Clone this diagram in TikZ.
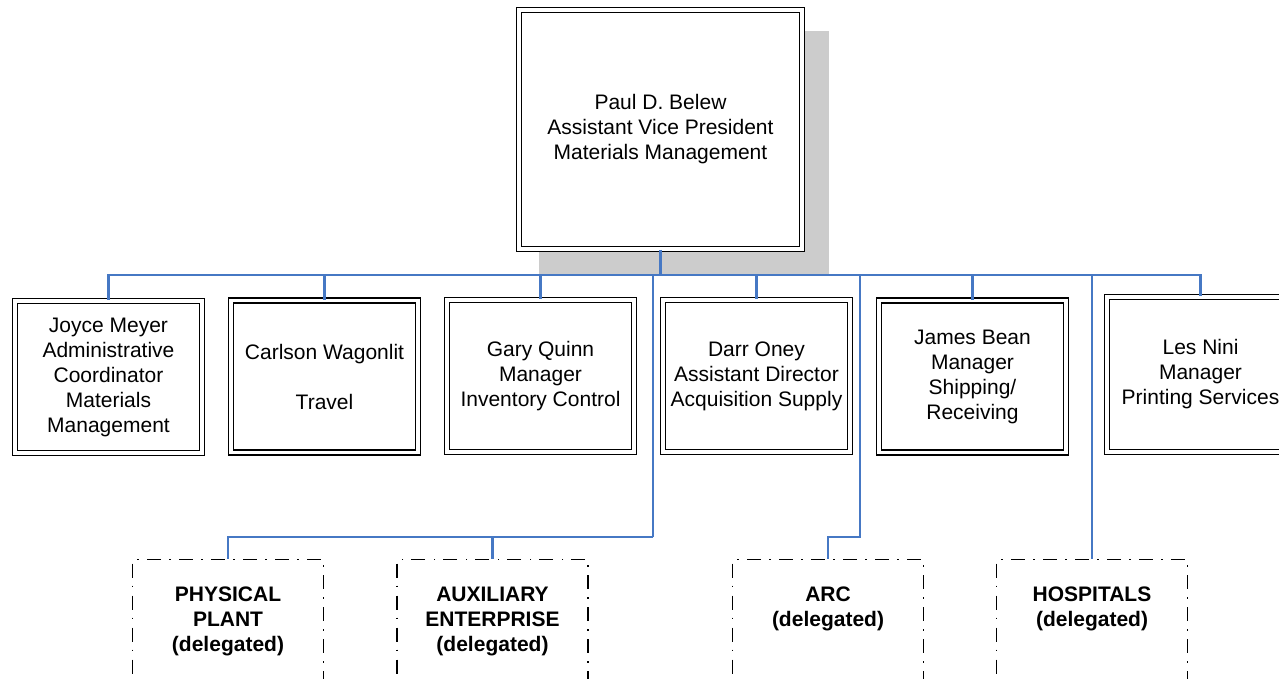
\documentclass[tikz,border=0pt]{standalone}
\usepackage{fontspec}
\setmainfont{Liberation Sans}
\usepackage{tikz}
\usetikzlibrary{positioning}
\definecolor{linkblue}{RGB}{70,120,196}
\definecolor{shadowgray}{RGB}{204,204,204}
\newcommand{\orgfont}{\fontsize{21}{25}\selectfont}
\tikzset{
  mgrbox/.style={draw, double, double distance=3.2pt, line width=1.7pt,
    minimum width=187pt, minimum height=152pt, inner sep=2pt,
    align=center, font=\orgfont},
  topbox/.style={mgrbox, minimum width=283pt, minimum height=239pt},
  delbox/.style={draw, line width=1.5pt,
    dash pattern=on 14pt off 8pt on 1.5pt off 8.5pt,
    minimum width=191pt, minimum height=158pt},
  deltext/.style={align=center, inner sep=0pt, font=\orgfont\bfseries},
  link/.style={draw=linkblue, line width=2.1pt}
}
\begin{document}
\begin{tikzpicture}[x=1pt, y=-1pt]
    \useasboundingbox (0,0) rectangle (1279,678);

    % shadow of the top box
    \fill[shadowgray] (539,31) rectangle (829,276);

    % top box
    \node[topbox, fill=white] (vp) at (660.5,129.5)
        {Paul D. Belew\\Assistant Vice President\\Materials Management};

    % managers
    \node[mgrbox] (jm) at (108.5,377) {Joyce Meyer\\Administrative\\Coordinator\\Materials\\Management};
    \node[mgrbox] (cw) at (324.5,376.5) {Carlson Wagonlit\\[25pt]Travel};
    \node[mgrbox] (gq) at (540.5,376) {Gary Quinn\\Manager\\Inventory Control};
    \node[mgrbox] (do) at (756.5,376) {Darr Oney\\Assistant Director\\Acquisition Supply};
    \node[mgrbox] (jb) at (972.5,376.5) {James Bean\\Manager\\Shipping/\\Receiving};
    \node[mgrbox, minimum height=155pt] (ln) at (1200.5,374.5) {Les Nini\\Manager\\Printing Services};

    % delegated units
    \node[delbox] (pp) at (228,638.5) {};
    \node[delbox] (ae) at (492.5,638.5) {};
    \node[delbox] (arc) at (828,638.5) {};
    \node[delbox] (hosp) at (1092,638.5) {};
    \node[deltext, below=28pt of pp.north] (pptext) {PHYSICAL\\PLANT\\(delegated)};
    \node[deltext, below=28pt of ae.north] (aetext) {AUXILIARY\\ENTERPRISE\\(delegated)};
    \node[deltext, below=28pt of arc.north] (arctext) {ARC\\(delegated)};
    \node[deltext, below=28pt of hosp.north] (hosptext) {HOSPITALS\\(delegated)};

    % connectors
    \coordinate (bus) at (660.5,275);
    \coordinate (lowbus) at (653,537);
    \coordinate (arcjog) at (860,537);
    \draw[link] (vp.south) -- (bus);
    \foreach \n in {jm,cw,gq,do,jb,ln}
        \draw[link] (bus) -| (\n.north);
    \draw[link] (lowbus |- bus) -- (lowbus);
    \draw[link] (lowbus) -| (pp.north);
    \draw[link] (lowbus) -| (ae.north);
    \draw[link] (arcjog |- bus) -- (arcjog) -| (arc.north);
    \draw[link] (hosp.north |- bus) -- (hosp.north);
\end{tikzpicture}
\end{document}
